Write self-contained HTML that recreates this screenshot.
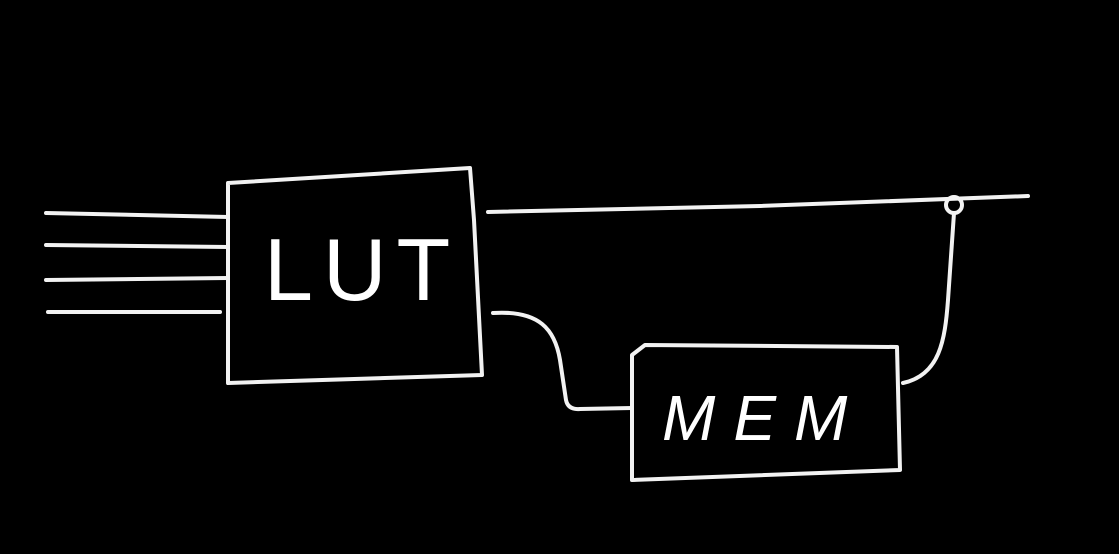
<!DOCTYPE html>
<html><head><meta charset="utf-8"><style>
html,body{margin:0;padding:0;background:#000;width:1119px;height:554px;overflow:hidden}
svg{display:block}
text{font-family:"Liberation Sans",sans-serif;fill:#fff}
</style></head><body>
<svg width="1119" height="554" viewBox="0 0 1119 554" xmlns="http://www.w3.org/2000/svg">
<g fill="none" stroke="#f2f2f2" stroke-width="4" stroke-linecap="round" stroke-linejoin="round">
<path d="M228 183 L470 168 L474 220 L482 375 L228 383 Z"/>
<path d="M46 213 L228 217"/>
<path d="M46 245 L228 247"/>
<path d="M46 280 L228 278"/>
<path d="M48 312 L220 312"/>
<path d="M488 212 L760 206 L1028 196"/>
<circle cx="954" cy="205" r="8"/>
<path d="M493 313 C540 310 555 330 560 360 L566 400 Q568 410 580 409 L632 408"/>
<path d="M632 355 L645 345 L897 347 L900 470 L632 480 Z"/>
<path d="M903 383 C940 375 945 340 948 300 L954 213"/>
</g>
<text x="264" y="300" font-size="88" letter-spacing="10">LUT</text>
<text x="662" y="440" font-size="64" font-style="italic" letter-spacing="18">MEM</text>
</svg>
</body></html>
